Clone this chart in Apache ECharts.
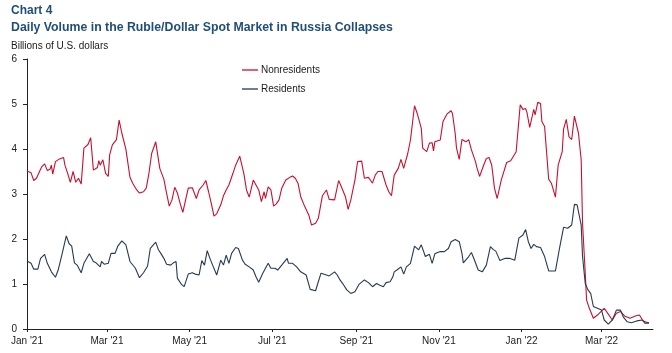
<!DOCTYPE html>
<html>
<head>
<meta charset="utf-8">
<script src="https://cdn.jsdelivr.net/npm/echarts@6.0.0/dist/echarts.min.js"></script>
<style>
html, body { margin: 0; padding: 0; background: #fff; }
#chart { width: 672px; height: 353px; }
</style>
</head>
<body>
<div id="chart"></div>
<script>
// values, billions of U.S. dollars
let nonresDates = [
    '2021-01-01', '2021-01-04', '2021-01-06', '2021-01-08', '2021-01-11', '2021-01-12', '2021-01-14', '2021-01-16',
    '2021-01-18', '2021-01-19', '2021-01-20', '2021-01-22', '2021-01-25', '2021-01-28', '2021-01-29', '2021-01-31',
    '2021-02-02', '2021-02-04', '2021-02-06', '2021-02-08', '2021-02-10', '2021-02-12', '2021-02-15', '2021-02-17',
    '2021-02-19', '2021-02-22', '2021-02-23', '2021-02-24', '2021-02-26', '2021-02-28', '2021-03-02', '2021-03-03',
    '2021-03-05', '2021-03-08', '2021-03-10', '2021-03-12', '2021-03-15', '2021-03-18', '2021-03-20', '2021-03-23',
    '2021-03-25', '2021-03-28', '2021-03-30', '2021-04-01', '2021-04-03', '2021-04-06', '2021-04-09', '2021-04-12',
    '2021-04-14', '2021-04-16', '2021-04-18', '2021-04-20', '2021-04-22', '2021-04-24', '2021-04-26', '2021-04-30',
    '2021-05-03', '2021-05-06', '2021-05-08', '2021-05-11', '2021-05-13', '2021-05-15', '2021-05-17', '2021-05-19',
    '2021-05-21', '2021-05-24', '2021-05-26', '2021-05-28', '2021-05-30', '2021-06-02', '2021-06-04', '2021-06-07',
    '2021-06-10', '2021-06-12', '2021-06-14', '2021-06-17', '2021-06-18', '2021-06-21', '2021-06-23', '2021-06-25',
    '2021-06-26', '2021-06-28', '2021-06-30', '2021-07-02', '2021-07-04', '2021-07-06', '2021-07-08', '2021-07-11',
    '2021-07-14', '2021-07-16', '2021-07-18', '2021-07-20', '2021-07-22', '2021-07-25', '2021-07-28', '2021-07-30',
    '2021-08-02', '2021-08-04', '2021-08-07', '2021-08-10', '2021-08-12', '2021-08-16', '2021-08-19', '2021-08-21',
    '2021-08-24', '2021-08-26', '2021-08-28', '2021-08-31', '2021-09-02', '2021-09-05', '2021-09-07', '2021-09-10',
    '2021-09-13', '2021-09-15', '2021-09-17', '2021-09-20', '2021-09-23', '2021-09-25', '2021-09-27', '2021-09-29',
    '2021-10-02', '2021-10-04', '2021-10-06', '2021-10-09', '2021-10-11', '2021-10-14', '2021-10-16', '2021-10-19',
    '2021-10-20', '2021-10-23', '2021-10-25', '2021-10-27', '2021-10-28', '2021-10-29', '2021-11-02', '2021-11-04',
    '2021-11-07', '2021-11-10', '2021-11-11', '2021-11-13', '2021-11-14', '2021-11-16', '2021-11-18', '2021-11-21',
    '2021-11-23', '2021-11-25', '2021-11-28', '2021-11-29', '2021-12-01', '2021-12-04', '2021-12-06', '2021-12-08',
    '2021-12-10', '2021-12-12', '2021-12-14', '2021-12-17', '2021-12-21', '2021-12-24', '2021-12-28', '2021-12-31',
    '2022-01-02', '2022-01-04', '2022-01-05', '2022-01-07', '2022-01-10', '2022-01-11', '2022-01-13', '2022-01-15',
    '2022-01-16', '2022-01-18', '2022-01-21', '2022-01-23', '2022-01-26', '2022-01-28', '2022-01-31', '2022-02-01',
    '2022-02-03', '2022-02-05', '2022-02-07', '2022-02-09', '2022-02-12', '2022-02-14', '2022-02-15', '2022-02-17',
    '2022-02-18', '2022-02-20', '2022-02-23', '2022-02-26', '2022-03-03', '2022-03-06', '2022-03-09', '2022-03-12',
    '2022-03-15', '2022-03-18', '2022-03-22', '2022-03-26', '2022-03-29', '2022-03-31', '2022-04-02', '2022-04-05'
];
let nonresValues = [
    3.51, 3.47, 3.30, 3.35, 3.55, 3.61, 3.67, 3.52,
    3.55, 3.64, 3.44, 3.72, 3.78, 3.81, 3.64, 3.46,
    3.26, 3.50, 3.26, 3.35, 3.22, 4.02, 4.10, 4.25,
    3.53, 3.59, 3.74, 3.64, 3.76, 3.46, 3.39, 3.87,
    4.09, 4.21, 4.64, 4.35, 3.99, 3.37, 3.24, 3.09,
    3.02, 3.05, 3.13, 3.46, 3.90, 4.16, 3.57, 3.33,
    3.02, 2.73, 2.87, 3.15, 3.02, 2.79, 2.59, 3.13,
    3.14, 2.90, 3.09, 3.20, 3.30, 3.05, 2.79, 2.51,
    2.56, 2.76, 2.96, 3.09, 3.20, 3.46, 3.64, 3.84,
    3.46, 3.09, 2.93, 3.31, 3.33, 3.09, 2.83, 3.05,
    2.90, 3.16, 3.09, 2.73, 2.78, 2.87, 3.13, 3.31,
    3.37, 3.40, 3.35, 3.24, 2.94, 2.72, 2.53, 2.31,
    2.35, 2.46, 2.96, 3.09, 2.88, 2.87, 3.30, 3.16,
    2.94, 2.66, 2.87, 3.31, 3.72, 3.73, 3.35, 3.37,
    3.24, 3.42, 3.50, 3.50, 3.20, 3.05, 2.96, 3.42,
    3.57, 3.77, 3.57, 3.90, 4.20, 4.96, 4.79, 4.46,
    4.02, 3.94, 4.13, 4.14, 3.96, 4.16, 4.20, 4.61,
    4.78, 4.85, 4.79, 4.35, 4.02, 3.77, 4.21, 4.16,
    4.21, 3.98, 3.72, 3.59, 3.39, 3.64, 3.79, 3.81,
    3.64, 3.13, 2.90, 3.31, 3.70, 3.74, 3.94, 4.98,
    4.88, 4.90, 4.81, 4.48, 4.88, 4.76, 5.04, 5.01,
    4.61, 4.50, 3.33, 3.24, 2.93, 3.64, 3.94, 4.44,
    4.66, 4.27, 4.21, 4.73, 4.35, 3.76, 2.35, 1.24,
    0.64, 0.46, 0.24, 0.31, 0.46, 0.33, 0.20, 0.35,
    0.39, 0.29, 0.24, 0.29, 0.31, 0.21, 0.16, 0.14
];

let resDates = [
    '2021-01-01', '2021-01-04', '2021-01-06', '2021-01-09', '2021-01-11', '2021-01-14', '2021-01-16', '2021-01-19',
    '2021-01-22', '2021-01-24', '2021-01-27', '2021-01-30', '2021-02-01', '2021-02-03', '2021-02-05', '2021-02-07',
    '2021-02-10', '2021-02-12', '2021-02-16', '2021-02-19', '2021-02-21', '2021-02-24', '2021-02-25', '2021-02-27',
    '2021-03-02', '2021-03-04', '2021-03-07', '2021-03-09', '2021-03-12', '2021-03-15', '2021-03-18', '2021-03-22',
    '2021-03-25', '2021-03-28', '2021-03-31', '2021-04-02', '2021-04-06', '2021-04-08', '2021-04-10', '2021-04-12',
    '2021-04-14', '2021-04-17', '2021-04-19', '2021-04-21', '2021-04-22', '2021-04-25', '2021-04-27', '2021-04-30',
    '2021-05-03', '2021-05-05', '2021-05-08', '2021-05-10', '2021-05-12', '2021-05-14', '2021-05-16', '2021-05-18',
    '2021-05-21', '2021-05-24', '2021-05-26', '2021-05-28', '2021-05-30', '2021-06-01', '2021-06-04', '2021-06-06',
    '2021-06-09', '2021-06-11', '2021-06-14', '2021-06-17', '2021-06-19', '2021-06-21', '2021-06-24', '2021-06-28',
    '2021-06-30', '2021-07-03', '2021-07-05', '2021-07-08', '2021-07-12', '2021-07-13', '2021-07-16', '2021-07-19',
    '2021-07-22', '2021-07-26', '2021-07-29', '2021-08-02', '2021-08-04', '2021-08-06', '2021-08-10', '2021-08-12',
    '2021-08-16', '2021-08-18', '2021-08-20', '2021-08-22', '2021-08-25', '2021-08-28', '2021-08-31', '2021-09-03',
    '2021-09-07', '2021-09-10', '2021-09-13', '2021-09-16', '2021-09-18', '2021-09-21', '2021-09-23', '2021-09-26',
    '2021-09-28', '2021-09-29', '2021-10-01', '2021-10-04', '2021-10-06', '2021-10-08', '2021-10-11', '2021-10-14',
    '2021-10-17', '2021-10-19', '2021-10-22', '2021-10-25', '2021-10-27', '2021-10-29', '2021-10-31', '2021-11-02',
    '2021-11-05', '2021-11-08', '2021-11-10', '2021-11-13', '2021-11-16', '2021-11-18', '2021-11-19', '2021-11-23',
    '2021-11-25', '2021-11-27', '2021-11-30', '2021-12-03', '2021-12-06', '2021-12-09', '2021-12-11', '2021-12-13',
    '2021-12-16', '2021-12-20', '2021-12-23', '2021-12-27', '2021-12-30', '2022-01-02', '2022-01-04', '2022-01-06',
    '2022-01-08', '2022-01-10', '2022-01-12', '2022-01-15', '2022-01-18', '2022-01-21', '2022-01-26', '2022-01-29',
    '2022-02-01', '2022-02-04', '2022-02-07', '2022-02-09', '2022-02-11', '2022-02-14', '2022-02-15', '2022-02-17',
    '2022-02-19', '2022-02-21', '2022-02-23', '2022-02-26', '2022-03-01', '2022-03-03', '2022-03-06', '2022-03-09',
    '2022-03-12', '2022-03-15', '2022-03-17', '2022-03-20', '2022-03-23', '2022-03-27', '2022-03-31', '2022-04-02',
    '2022-04-05'
];
let resValues = [
    1.51, 1.46, 1.33, 1.33, 1.57, 1.66, 1.46, 1.27,
    1.15, 1.31, 1.68, 2.07, 1.90, 1.84, 1.47, 1.42,
    1.25, 1.46, 1.67, 1.50, 1.47, 1.38, 1.50, 1.44,
    1.46, 1.68, 1.68, 1.84, 1.96, 1.87, 1.50, 1.35,
    1.14, 1.25, 1.40, 1.79, 1.93, 1.76, 1.67, 1.57,
    1.44, 1.42, 1.47, 1.50, 1.13, 0.99, 0.94, 1.22,
    1.25, 1.22, 1.20, 1.52, 1.42, 1.74, 1.57, 1.42,
    1.20, 1.53, 1.42, 1.64, 1.46, 1.68, 1.81, 1.79,
    1.53, 1.44, 1.38, 1.31, 1.16, 1.04, 1.24, 1.46,
    1.35, 1.35, 1.31, 1.42, 1.57, 1.46, 1.46, 1.38,
    1.27, 1.20, 0.88, 0.85, 1.05, 1.24, 1.20, 1.18,
    1.27, 1.20, 1.09, 1.01, 0.87, 0.79, 0.83, 0.99,
    1.09, 1.03, 0.94, 1.01, 0.98, 0.94, 1.03, 1.05,
    1.16, 1.27, 1.31, 1.38, 1.22, 1.38, 1.46, 1.84,
    1.76, 1.87, 1.61, 1.66, 1.46, 1.67, 1.70, 1.72,
    1.72, 1.79, 1.94, 1.99, 1.94, 1.68, 1.47, 1.61,
    1.70, 1.55, 1.31, 1.27, 1.42, 1.83, 1.77, 1.73,
    1.52, 1.57, 1.57, 1.53, 2.02, 2.09, 2.21, 1.94,
    1.79, 1.88, 1.83, 1.81, 1.61, 1.29, 1.29, 1.79,
    2.26, 2.24, 2.31, 2.77, 2.76, 2.31, 1.61, 1.01,
    0.87, 0.79, 0.50, 0.46, 0.42, 0.20, 0.11, 0.20,
    0.42, 0.42, 0.27, 0.16, 0.14, 0.18, 0.20, 0.13,
    0.13
];

let monthNames = ['Jan', 'Feb', 'Mar', 'Apr', 'May', 'Jun', 'Jul', 'Aug', 'Sep', 'Oct', 'Nov', 'Dec'];

function zip(dates, values) {
    return dates.map(function (d, i) { return [d, values[i]]; });
}

let textColor = '#1a1a1a';
let titleColor = '#1f4e79';
let twoMonths = 61 * 24 * 3600 * 1000;

let chart = echarts.init(document.getElementById('chart'));
chart.setOption({
    animation: false,
    backgroundColor: '#ffffff',
    textStyle: {
        fontFamily: 'Liberation Sans, Arial, sans-serif'
    },
    title: [{
        text: 'Chart 4',
        left: 11,
        top: 5,
        padding: 0,
        textStyle: { fontSize: 12, fontWeight: 'bold', color: titleColor }
    }, {
        text: 'Daily Volume in the Ruble/Dollar Spot Market in Russia Collapses',
        left: 11,
        top: 22,
        padding: 0,
        textStyle: { fontSize: 12.3, fontWeight: 'bold', color: titleColor }
    }, {
        text: 'Billions of U.S. dollars',
        left: 11,
        top: 41,
        padding: 0,
        textStyle: { fontSize: 10, fontWeight: 'normal', color: textColor }
    }],
    legend: {
        orient: 'vertical',
        left: 242,
        top: 65,
        padding: 0,
        itemWidth: 16,
        itemHeight: 1.3,
        itemGap: 9,
        icon: 'rect',
        textStyle: { fontSize: 10, color: textColor, padding: [0, 0, 0, -2] },
        data: ['Nonresidents', 'Residents']
    },
    grid: {
        left: 27,
        right: 19,
        top: 59,
        bottom: 24,
        containLabel: false
    },
    xAxis: {
        type: 'time',
        min: '2021-01-01',
        max: '2022-04-08',
        minInterval: twoMonths,
        maxInterval: twoMonths,
        axisLine: { show: true, lineStyle: { color: '#222', width: 1 } },
        axisTick: { show: true, length: 3, lineStyle: { color: '#222' } },
        splitLine: { show: false },
        axisLabel: {
            fontSize: 10,
            color: textColor,
            margin: 7,
            showMaxLabel: false,
            formatter: function (value) {
                let d = new Date(value);
                return monthNames[d.getMonth()] + " '" + String(d.getFullYear()).slice(2);
            }
        }
    },
    yAxis: {
        type: 'value',
        min: 0,
        max: 6,
        interval: 1,
        axisLine: { show: true, lineStyle: { color: '#222', width: 1 } },
        axisTick: { show: true, length: 4, lineStyle: { color: '#222' } },
        splitLine: { show: false },
        axisLabel: { fontSize: 10, color: textColor, margin: 10 }
    },
    series: [{
        name: 'Nonresidents',
        type: 'line',
        showSymbol: false,
        symbol: 'none',
        color: '#c8102e',
        lineStyle: { width: 1.1 },
        data: zip(nonresDates, nonresValues)
    }, {
        name: 'Residents',
        type: 'line',
        showSymbol: false,
        symbol: 'none',
        color: '#243a55',
        lineStyle: { width: 1.1 },
        data: zip(resDates, resValues)
    }]
});
</script>
</body>
</html>
